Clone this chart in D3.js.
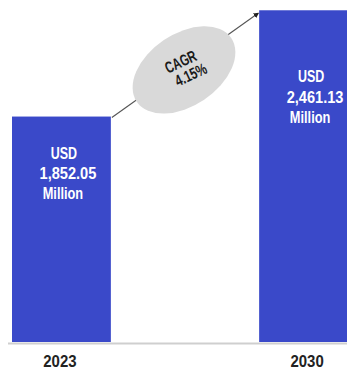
<!DOCTYPE html>
<html>
<head>
<meta charset="utf-8">
<script src="https://cdn.jsdelivr.net/npm/d3@7"></script>
<style>
  html, body { margin: 0; padding: 0; background: #fff; }
  svg { display: block; }
  text { font-family: "Liberation Sans", Arial, sans-serif; font-weight: bold; }
</style>
</head>
<body>
<svg id="chart" width="347" height="369"></svg>
<script>
// Market size, USD million
const years = ["2023", "2030"];
const values = [1852.05, 2461.13];
const valueLabels = ["1,852.05", "2,461.13"];
const cagrLabel = ["CAGR", "4.15%"];

const svg = d3.select("#chart");
const width = 347, height = 369;
const baseY = 342;

const x = d3.scaleBand()
  .domain(years)
  .range([12, 358])
  .paddingInner(0.6)
  .paddingOuter(0);

const y = d3.scaleLinear()
  .domain([560, 2520])
  .range([baseY, 0]);

const barColor = "#3a49c9";

// Narrow bold text: horizontally squeezed Liberation Sans
function narrowText(sel, sx) {
  return sel.attr("transform", function (d, i) {
    const tx = +this.getAttribute("data-x"), ty = +this.getAttribute("data-y");
    const s = typeof sx === "function" ? sx(d, i) : sx;
    return `translate(${tx},${ty}) scale(${s},1)`;
  });
}

// Bars
svg.selectAll("rect.bar")
  .data(years)
  .join("rect")
  .attr("class", "bar")
  .attr("x", d => x(d))
  .attr("y", (d, i) => y(values[i]))
  .attr("width", x.bandwidth())
  .attr("height", (d, i) => baseY - y(values[i]))
  .attr("fill", barColor);

// Baseline
svg.append("line")
  .attr("x1", 8).attr("x2", width)
  .attr("y1", baseY + 1.5).attr("y2", baseY + 1.5)
  .attr("stroke", "#cfcfcf")
  .attr("stroke-width", 2);

// Year labels under the bars
svg.selectAll("text.year")
  .data(years)
  .join("text")
  .attr("class", "year")
  .attr("data-x", d => x(d) + x.bandwidth() / 2 - 1.5)
  .attr("data-y", 367)
  .attr("text-anchor", "middle")
  .attr("fill", "#222")
  .attr("font-size", 17)
  .text(d => d)
  .call(narrowText, 0.88);

// Value labels inside the bars
const labelDrop = [42, 72];
const lineOffsets = [
  { dx: 2.5, dy: 0, sx: 0.77 },
  { dx: 6.5, dy: 20.5, sx: 0.9 },
  { dx: 1.5, dy: 40.5, sx: 0.79 }
];
years.forEach((yr, i) => {
  const cx = x(yr) + x.bandwidth() / 2;
  const top = y(values[i]) + labelDrop[i];
  const lines = ["USD", valueLabels[i], "Million"];
  svg.append("g")
    .selectAll("text")
    .data(lines)
    .join("text")
    .attr("data-x", (d, j) => cx + lineOffsets[j].dx)
    .attr("data-y", (d, j) => top + lineOffsets[j].dy)
    .attr("text-anchor", "middle")
    .attr("fill", "#fff")
    .attr("font-size", 16.2)
    .text(d => d)
    .call(narrowText, (d, j) => lineOffsets[j].sx);
});

// Growth arrow between bar tops
const defs = svg.append("defs");
defs.append("marker")
  .attr("id", "arrowhead")
  .attr("viewBox", "0 0 10 10")
  .attr("refX", 8).attr("refY", 5)
  .attr("markerWidth", 5).attr("markerHeight", 5)
  .attr("orient", "auto")
  .append("path")
  .attr("d", "M0,0 L10,5 L0,10 Z")
  .attr("fill", "#222");

const x0 = x(years[0]) + x.bandwidth() + 1;
const y0 = y(values[0]) + 1;
const x1 = x(years[1]) - 1;
const y1 = y(values[1]) + 3;
svg.append("line")
  .attr("x1", x0).attr("y1", y0)
  .attr("x2", x1).attr("y2", y1)
  .attr("stroke", "#555")
  .attr("stroke-width", 1.1)
  .attr("marker-end", "url(#arrowhead)");

// CAGR bubble
const mx = (x0 + x1) / 2, my = (y0 + y1) / 2;
svg.append("ellipse")
  .attr("rx", 57).attr("ry", 36)
  .attr("transform", `translate(${mx - 1}, ${my + 4.5}) rotate(-34)`)
  .attr("fill", "#d9d9d9");
svg.append("g")
  .attr("transform", `translate(${mx + 0.5}, ${my + 2.5}) rotate(-25)`)
  .selectAll("text")
  .data(cagrLabel)
  .join("text")
  .attr("data-x", (d, i) => i === 0 ? -1.8 : 2)
  .attr("data-y", (d, i) => i === 0 ? -2.2 : 13.8)
  .attr("text-anchor", "middle")
  .attr("fill", "#1a1a1a")
  .attr("font-size", 16)
  .text(d => d)
  .call(narrowText, (d, i) => i === 0 ? 0.7 : 0.74);
</script>
</body>
</html>
